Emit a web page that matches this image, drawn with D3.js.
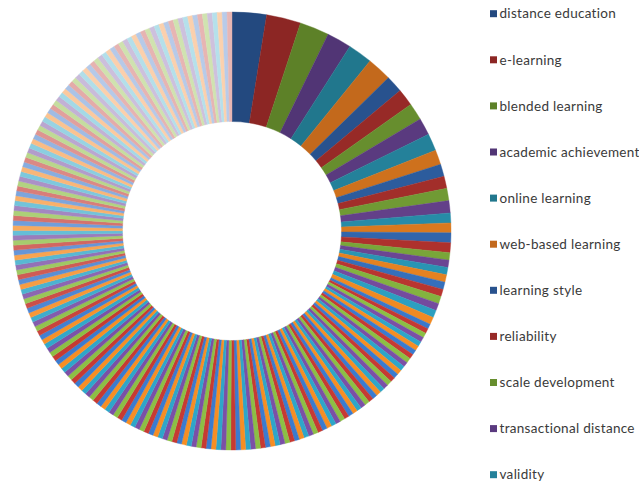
<!DOCTYPE html>
<html>
<head>
<meta charset="utf-8">
<script src="https://cdn.jsdelivr.net/npm/d3@7"></script>
<style>
  html, body { margin: 0; padding: 0; background: #ffffff; }
  svg { display: block; }
</style>
</head>
<body>
<svg id="chart" width="639" height="484"></svg>
<script>
// Keyword labels shown in the legend (the list continues past the visible area)
const keywords = [
  "distance education", "e-learning", "blended learning", "academic achievement",
  "online learning", "web-based learning", "learning style", "reliability",
  "scale development", "transactional distance", "validity"
];

// Keyword frequencies, most frequent first
const frequencies = [
  14, 14, 12, 10, 10, 10, 7, 7, 7, 7, 7, 6, 5, 5, 5, 5, 4, 4, 4, 4,
  3, 3, 3, 3, 3, 3, 3, 3, 3, 3,
  2, 2, 2, 2, 2, 2, 2, 2, 2, 2, 2, 2, 2, 2, 2, 2, 2, 2, 2, 2,
  2, 2, 2, 2, 2, 2, 2, 2, 2, 2, 2, 2, 2, 2, 2, 2, 2, 2, 2, 2,
  2, 2, 2, 2, 2, 2, 2, 2, 2, 2, 2, 2, 2, 2, 2, 2, 2, 2, 2, 2,
  2, 2, 2, 2, 2, 2, 2, 2, 2, 2, 2, 2, 2, 2, 2, 2, 2, 2, 2, 2,
  2, 2, 2, 2, 2, 2, 2, 2, 2, 2, 2, 2, 2, 2, 2, 2, 2, 2, 2, 2,
  2, 2, 2, 2, 2, 2, 2, 2, 2, 2, 2, 2, 2, 2, 2, 2, 2, 2, 2, 2,
  2, 2, 2, 2, 2, 2, 2, 2, 2, 2, 2, 2, 2, 2, 2, 2, 2, 2, 2, 2,
  2, 2, 2, 2, 2, 2, 2, 2, 2, 2, 2, 2, 2, 2, 2, 2, 2, 2, 2, 2,
  2, 2, 2, 2, 2, 2, 2, 2, 2, 2, 2, 2, 2, 2, 2, 2, 2, 2, 2, 2,
  2, 2, 2, 2, 2, 2, 2, 2
];

// Six theme hues, each in a dark, a full and a pale variant
const darkHues  = ["#23497f", "#8a2523", "#5a7d26", "#4d3270", "#1f7084", "#b9621a"];
const baseHues  = ["#3b7bcf", "#c63a33", "#8cbf45", "#7b50a6", "#2ea6c9", "#f68e24"];
const paleHues  = ["#b5c9e8", "#e6b3b1", "#cfe2ae", "#ccbfdc", "#b3dfea", "#fbcfab"];

const svg = d3.select("#chart");
const cx = 232, cy = 231, outerR = 219, innerR = 109.5;

const n = frequencies.length;
// shade runs dark -> full over the first slices, holds, then fades to pale
const tone = d3.scaleLinear()
  .domain([0, 32, 122, 185, n - 1])
  .range([0, 1, 1, 2, 2.03])
  .clamp(true);
const shadeAt = (i) => {
  const h = i % 6;
  const t = tone(i);
  if (t <= 1) return d3.interpolateRgb(darkHues[h], baseHues[h])(t);
  const p = d3.interpolateRgb(baseHues[h], paleHues[h])(Math.min(1, t - 1));
  return t > 2 ? d3.interpolateRgb(p, "#ffffff")((t - 2) * 1.2) : p;
};

const pie = d3.pie().sort(null).value(d => d)
  .startAngle(0).endAngle(2 * Math.PI);
const arc = d3.arc().innerRadius(innerR).outerRadius(outerR);

const ring = svg.append("g")
  .attr("transform", `translate(${cx},${cy})`);

ring.selectAll("path")
  .data(pie(frequencies))
  .join("path")
  .attr("d", arc)
  .attr("fill", (d, i) => shadeAt(i))
  .attr("stroke", (d, i) => shadeAt(i))
  .attr("stroke-width", 0.4);

// legend
const legendY = d3.scalePoint()
  .domain(keywords)
  .range([13.7, 13.7 + 46.1 * (keywords.length - 1)]);

const legend = svg.append("g");
const item = legend.selectAll("g")
  .data(keywords)
  .join("g")
  .attr("transform", d => `translate(490,${legendY(d)})`);

item.append("rect")
  .attr("x", 0).attr("y", -3.5)
  .attr("width", 7).attr("height", 7)
  .attr("fill", (d, i) => shadeAt(i));

item.append("text")
  .attr("x", 9.5).attr("y", 0)
  .attr("dy", "0.35em")
  .attr("font-family", "Lato, 'Open Sans', sans-serif")
  .attr("font-size", 13.5)
  .attr("letter-spacing", 0.3)
  .attr("fill", "#3a3a3a")
  .text(d => d);
</script>
</body>
</html>
